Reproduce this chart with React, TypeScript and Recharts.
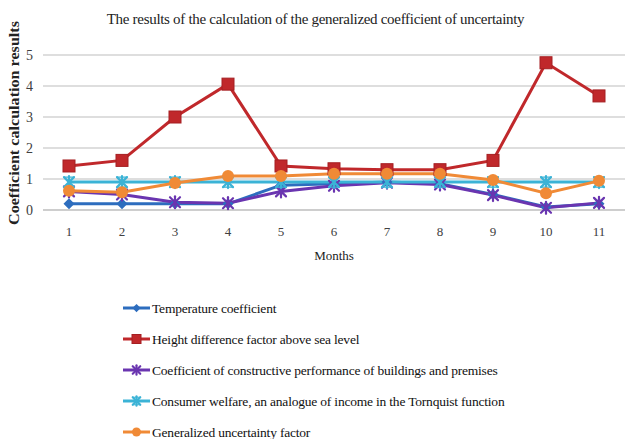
import React from 'react';
import { LineChart, Line, XAxis, YAxis, CartesianGrid, Legend, Label } from 'recharts';

const months = ['1', '2', '3', '4', '5', '6', '7', '8', '9', '10', '11'];
const temperatureCoefficient = [0.2, 0.2, 0.2, 0.2, 0.8, 0.85, 0.9, 0.85, 0.5, 0.1, 0.2];
const heightDifferenceFactor = [1.42, 1.6, 3.0, 4.06, 1.42, 1.33, 1.3, 1.3, 1.6, 4.75, 3.68];
const constructivePerformance = [0.6, 0.5, 0.25, 0.22, 0.6, 0.78, 0.88, 0.82, 0.48, 0.07, 0.23];
const consumerWelfare = [0.9, 0.9, 0.9, 0.9, 0.9, 0.9, 0.9, 0.9, 0.9, 0.9, 0.9];
const generalizedUncertainty = [0.62, 0.57, 0.87, 1.1, 1.1, 1.17, 1.17, 1.17, 0.97, 0.54, 0.94];
const yTicks = [0, 1, 2, 3, 4, 5];

const seriesNames = [
  'Temperature coefficient',
  'Height difference factor above sea level',
  'Coefficient of constructive performance of buildings and premises',
  'Consumer welfare, an analogue of income in the Tornquist function',
  'Generalized uncertainty factor',
];

const data = months.map((m, i) => ({
  month: m,
  temp: temperatureCoefficient[i],
  height: heightDifferenceFactor[i],
  constr: constructivePerformance[i],
  consumer: consumerWelfare[i],
  general: generalizedUncertainty[i],
}));

type Shape = 'diamond' | 'square' | 'star' | 'asterisk' | 'circle';

const series: { key: string; name: string; color: string; shape: Shape }[] = [
  { key: 'temp', name: seriesNames[0], color: '#2D6DBE', shape: 'diamond' },
  { key: 'height', name: seriesNames[1], color: '#C0282B', shape: 'square' },
  { key: 'constr', name: seriesNames[2], color: '#6A35B0', shape: 'star' },
  { key: 'consumer', name: seriesNames[3], color: '#3BB3D6', shape: 'asterisk' },
  { key: 'general', name: seriesNames[4], color: '#F08A36', shape: 'circle' },
];

function Marker({ cx, cy, color, shape, s = 1 }: { cx: number; cy: number; color: string; shape: Shape; s?: number }) {
  if (cx == null || cy == null) return null;
  if (shape === 'diamond') {
    const r = 5.5 * s;
    return <path d={`M${cx} ${cy - r}L${cx + r} ${cy}L${cx} ${cy + r}L${cx - r} ${cy}Z`} fill={color} />;
  }
  if (shape === 'square') {
    const r = 6 * s;
    return <rect x={cx - r} y={cy - r} width={2 * r} height={2 * r} fill={color} stroke="#A51F22" strokeWidth={1} />;
  }
  if (shape === 'circle') {
    return <circle cx={cx} cy={cy} r={6 * s} fill={color} />;
  }
  const r = 5 * s;
  return (
    <g stroke={color} strokeWidth={2.2} strokeLinecap="round">
      <line x1={cx - r} y1={cy - r} x2={cx + r} y2={cy + r} />
      <line x1={cx - r} y1={cy + r} x2={cx + r} y2={cy - r} />
      <line x1={cx} y1={cy - r - 1} x2={cx} y2={cy + r + 1} />
      {shape === 'asterisk' && <line x1={cx - r} y1={cy - r} x2={cx + r} y2={cy - r} strokeWidth={1.2} />}
      {shape === 'asterisk' && <line x1={cx - r} y1={cy + r} x2={cx + r} y2={cy + r} strokeWidth={1.2} />}
    </g>
  );
}

const font = '"Liberation Serif", "DejaVu Serif", serif';

function LegendContent() {
  return (
    <svg width={420} height={150} style={{ display: 'block' }}>
      {series.map((s, i) => {
        const y = 16 + i * 31;
        return (
          <g key={s.key}>
            <line x1={5} y1={y} x2={32} y2={y} stroke={s.color} strokeWidth={3} />
            <Marker cx={18.5} cy={y} color={s.color} shape={s.shape} s={0.75} />
            <text x={34} y={y} dy="0.35em" fontFamily={font} fontSize={13.5} fill="#111" letterSpacing={-0.2}>
              {s.name}
            </text>
          </g>
        );
      })}
    </svg>
  );
}

const YLabel = () => (
  <text
    x={14}
    y={123}
    transform="rotate(-90 14 123)"
    textAnchor="middle"
    dominantBaseline="central"
    fontFamily={font}
    fontWeight="bold"
    fontSize={14.5}
    textLength={204}
    lengthAdjust="spacingAndGlyphs"
    fill="#222"
  >
    Coefficient calculation results
  </text>
);

export default function App() {
  return (
    <div style={{ position: 'absolute', left: 0, top: 0, width: 631, height: 439, background: '#fff' }}>
      <div
        style={{
          position: 'absolute',
          left: 0,
          top: 11,
          width: 631,
          textAlign: 'center',
          fontFamily: font,
          fontSize: 15,
          letterSpacing: -0.3,
          color: '#222',
        }}
      >
        The results of the calculation of the generalized coefficient of uncertainty
      </div>
      <LineChart width={631} height={439} data={data} margin={{ top: 55, right: 6, bottom: 39, left: 0 }}>
        <CartesianGrid vertical={false} stroke="#BDBDBD" strokeWidth={1.2} />
        <XAxis
          dataKey="month"
          height={40}
          padding={{ left: 26, right: 26 }}
          axisLine={{ stroke: '#BDBDBD' }}
          tickLine={false}
          tickSize={0}
          tickMargin={17}
          tick={{ fontFamily: font, fontSize: 13, fill: '#404040' }}
        >
          <Label value="Months" position="bottom" offset={1} style={{ fontFamily: font, fontSize: 13, fill: '#222' }} />
        </XAxis>
        <YAxis
          width={43}
          domain={[0, 5]}
          ticks={yTicks}
          axisLine={false}
          tickLine={false}
          tickSize={0}
          tickMargin={10}
          tick={{ fontFamily: font, fontSize: 14, fill: '#404040' }}
        >
          <Label content={<YLabel />} />
        </YAxis>
        <Legend
          verticalAlign="bottom"
          layout="horizontal"
          content={() => <LegendContent />}
          wrapperStyle={{ top: 292, left: 118, bottom: 'auto', width: 'auto' }}
        />
        {series.map((s) => (
          <Line
            key={s.key}
            dataKey={s.key}
            name={s.name}
            stroke={s.color}
            strokeWidth={3}
            isAnimationActive={false}
            dot={(p: any) => <Marker key={`${s.key}-${p.index}`} cx={p.cx} cy={p.cy} color={s.color} shape={s.shape} />}
            activeDot={false}
          />
        ))}
      </LineChart>
    </div>
  );
}
